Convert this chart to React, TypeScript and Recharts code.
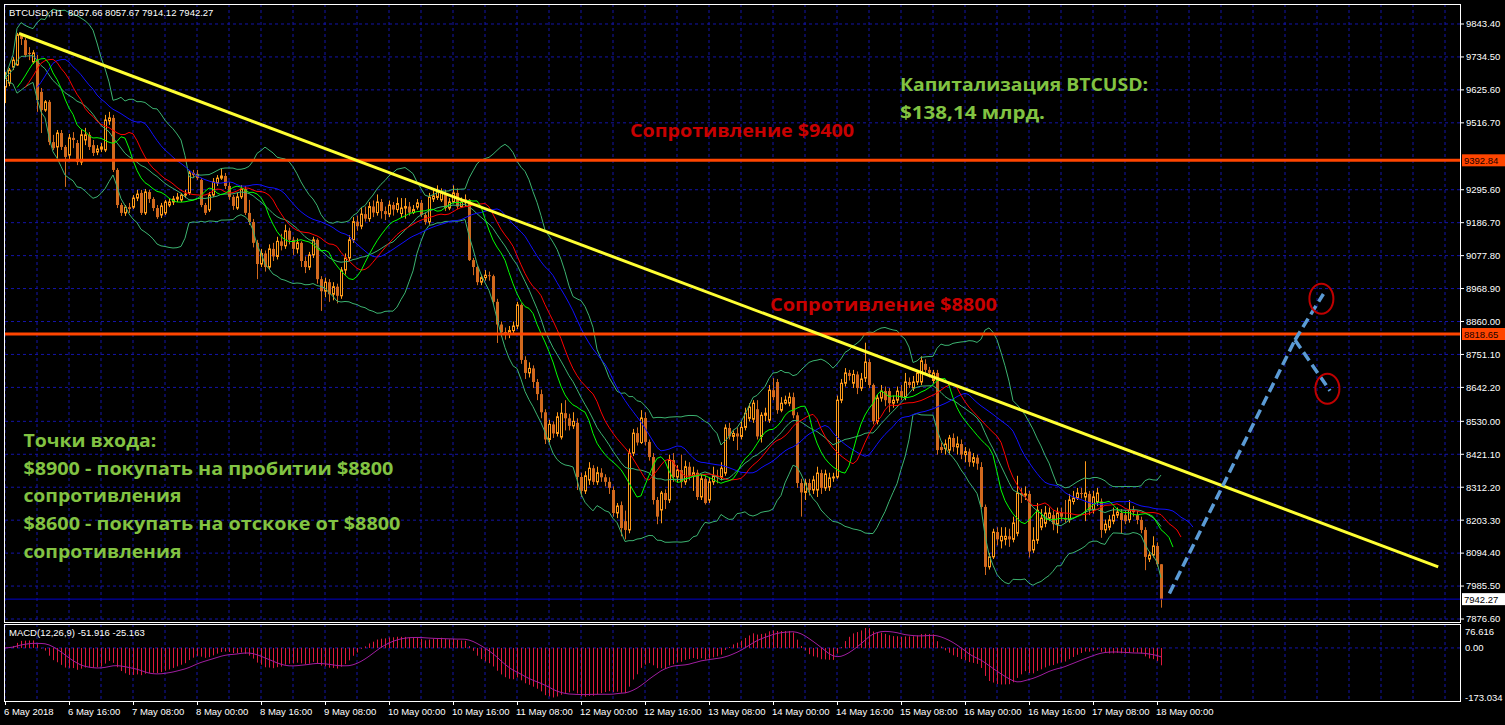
import React from "react";
import {
  ComposedChart,
  Bar,
  Line,
  XAxis,
  YAxis,
  CartesianGrid,
  ReferenceLine,
  ReferenceDot,
} from "recharts";

const SYMBOL = "BTCUSD,H1";
const MACD_TITLE = "MACD(12,26,9) -51.916 -25.163";

// H1 candles, bar 0 = 6 May 2018 00:00
const opens = [
  9635, 9648, 9701, 9708, 9804, 9790, 9748, 9718, 9724, 9619,
  9559, 9586, 9453, 9437, 9483, 9437, 9410, 9467, 9450, 9387,
  9460, 9477, 9443, 9420, 9430, 9427, 9523, 9533, 9361, 9245,
  9219, 9238, 9238, 9268, 9285, 9219, 9288, 9265, 9235, 9212,
  9219, 9245, 9255, 9265, 9262, 9278, 9285, 9351, 9348, 9328,
  9245, 9229, 9278, 9318, 9334, 9341, 9308, 9272, 9235, 9272,
  9298, 9219, 9189, 9120, 9050, 9085, 9040, 9100, 9075, 9125,
  9110, 9160, 9130, 9100, 9120, 9060, 9040, 9080, 9130, 9000,
  8960, 8990, 8950, 8975, 8945, 9030, 9070, 9130, 9190, 9175,
  9215, 9200, 9240, 9220, 9255, 9225, 9215, 9245, 9230, 9217,
  9235, 9240, 9220, 9238, 9252, 9212, 9189, 9265, 9270, 9262,
  9278, 9235, 9255, 9285, 9240, 9255, 9262, 9063, 9040, 8990,
  9005, 9013, 9010, 8925, 8850, 8825, 8818, 8830, 8845, 8915,
  8733, 8690, 8705, 8660, 8620, 8560, 8470, 8520, 8490, 8478,
  8557, 8540, 8515, 8525, 8346, 8300, 8336, 8375, 8330, 8360,
  8345, 8330, 8303, 8227, 8253, 8200, 8171, 8425, 8491, 8460,
  8541, 8462, 8412, 8270, 8237, 8293, 8270, 8402, 8346, 8369,
  8330, 8380, 8350, 8360, 8280, 8340, 8270, 8330, 8350, 8345,
  8359, 8508, 8480, 8490, 8480, 8510, 8540, 8537, 8570, 8480,
  8550, 8534, 8633, 8660, 8567, 8590, 8590, 8610, 8550, 8326,
  8295, 8326, 8303, 8303, 8359, 8310, 8313, 8343, 8346, 8600,
  8656, 8690, 8656, 8685, 8640, 8673, 8726, 8650, 8530, 8607,
  8630, 8630, 8590, 8600, 8630, 8610, 8660, 8640, 8660, 8660,
  8720, 8700, 8665, 8690, 8445, 8440, 8435, 8475, 8445, 8455,
  8420, 8430, 8395, 8410, 8379, 8247, 8049, 8082, 8164, 8135,
  8140, 8150, 8140, 8160, 8293, 8286, 8290, 8105, 8137, 8180,
  8193, 8210, 8220, 8190, 8227, 8210, 8205, 8265, 8276, 8293,
  8280, 8290, 8237, 8265, 8265, 8171, 8180, 8200, 8220, 8227,
  8220, 8205, 8237, 8220, 8204, 8171, 8075, 8088, 8118, 8057.66,
];
const highs = [
  9685, 9698, 9734, 9814, 9814, 9797, 9767, 9757, 9741, 9632,
  9592, 9592, 9477, 9493, 9493, 9443, 9480, 9486, 9460, 9493,
  9500, 9486, 9460, 9443, 9450, 9543, 9553, 9543, 9367, 9252,
  9245, 9252, 9278, 9295, 9295, 9298, 9295, 9271, 9245, 9252,
  9262, 9268, 9275, 9285, 9285, 9295, 9361, 9361, 9361, 9334,
  9252, 9288, 9334, 9344, 9367, 9351, 9321, 9278, 9285, 9311,
  9308, 9262, 9199, 9130, 9100, 9095, 9115, 9120, 9140, 9150,
  9180, 9170, 9140, 9135, 9125, 9075, 9090, 9140, 9135, 9010,
  9005, 9000, 8990, 8985, 9040, 9085, 9145, 9205, 9210, 9235,
  9240, 9255, 9260, 9280, 9265, 9240, 9260, 9255, 9270, 9268,
  9268, 9255, 9245, 9265, 9262, 9220, 9285, 9295, 9310, 9300,
  9295, 9268, 9310, 9300, 9270, 9280, 9265, 9070, 9045, 9015,
  9030, 9025, 9015, 8935, 8860, 8840, 8845, 8860, 8925, 8920,
  8745, 8725, 8715, 8670, 8635, 8570, 8535, 8530, 8560, 8590,
  8600, 8555, 8560, 8540, 8360, 8365, 8395, 8385, 8380, 8375,
  8355, 8345, 8315, 8260, 8265, 8235, 8440, 8505, 8510, 8567,
  8560, 8470, 8425, 8280, 8300, 8305, 8420, 8425, 8385, 8420,
  8400, 8395, 8380, 8370, 8355, 8350, 8345, 8380, 8370, 8395,
  8520, 8525, 8500, 8510, 8530, 8575, 8590, 8600, 8600, 8560,
  8575, 8650, 8673, 8670, 8610, 8615, 8625, 8625, 8560, 8340,
  8340, 8340, 8350, 8380, 8370, 8370, 8360, 8360, 8615, 8670,
  8706, 8700, 8700, 8695, 8690, 8790, 8735, 8655, 8620, 8650,
  8645, 8640, 8615, 8645, 8650, 8690, 8675, 8680, 8700, 8745,
  8735, 8710, 8700, 8700, 8460, 8470, 8485, 8490, 8480, 8470,
  8445, 8440, 8425, 8420, 8395, 8255, 8095, 8175, 8180, 8180,
  8180, 8175, 8215, 8350, 8310, 8315, 8300, 8180, 8260, 8240,
  8250, 8245, 8235, 8245, 8245, 8270, 8290, 8300, 8310, 8310,
  8398, 8300, 8300, 8310, 8275, 8205, 8220, 8245, 8245, 8240,
  8235, 8270, 8250, 8235, 8215, 8180, 8100, 8150, 8130, 8057.67,
];
const lows = [
  9582, 9638, 9691, 9705, 9774, 9734, 9724, 9711, 9553, 9483,
  9553, 9443, 9427, 9400, 9427, 9305, 9394, 9433, 9377, 9377,
  9443, 9427, 9407, 9410, 9420, 9420, 9510, 9354, 9235, 9209,
  9209, 9219, 9232, 9258, 9212, 9212, 9252, 9225, 9199, 9202,
  9212, 9238, 9245, 9255, 9255, 9268, 9278, 9334, 9328, 9238,
  9212, 9222, 9271, 9308, 9328, 9298, 9262, 9229, 9229, 9265,
  9212, 9179, 9105, 9000, 9040, 9025, 9030, 9060, 9065, 9095,
  9100, 9115, 9080, 9085, 9040, 9020, 9030, 9070, 8985, 8895,
  8940, 8925, 8930, 8920, 8935, 9015, 9060, 9120, 9160, 9165,
  9190, 9190, 9205, 9210, 9200, 9195, 9205, 9210, 9220, 9205,
  9200, 9210, 9215, 9230, 9205, 9180, 9180, 9255, 9262, 9255,
  9225, 9228, 9250, 9232, 9235, 9240, 9060, 9013, 8980, 8980,
  8995, 8995, 8915, 8789, 8810, 8800, 8805, 8820, 8835, 8720,
  8670, 8675, 8640, 8600, 8540, 8455, 8460, 8475, 8480, 8470,
  8500, 8500, 8505, 8303, 8280, 8290, 8320, 8320, 8320, 8330,
  8315, 8290, 8215, 8210, 8150, 8140, 8160, 8415, 8450, 8455,
  8450, 8400, 8255, 8190, 8193, 8240, 8260, 8330, 8330, 8310,
  8320, 8335, 8300, 8270, 8270, 8255, 8260, 8320, 8325, 8335,
  8350, 8470, 8465, 8435, 8470, 8500, 8530, 8525, 8470, 8460,
  8530, 8525, 8600, 8555, 8560, 8585, 8580, 8540, 8310, 8215,
  8270, 8285, 8290, 8280, 8290, 8300, 8300, 8330, 8340, 8590,
  8645, 8665, 8640, 8620, 8630, 8660, 8640, 8520, 8520, 8595,
  8580, 8560, 8575, 8590, 8600, 8600, 8640, 8630, 8650, 8650,
  8690, 8675, 8655, 8420, 8425, 8420, 8420, 8430, 8420, 8405,
  8395, 8380, 8380, 8370, 8240, 8022, 8040, 8075, 8120, 8110,
  8120, 8115, 8130, 8150, 8260, 8270, 8080, 8095, 8125, 8170,
  8180, 8200, 8170, 8160, 8200, 8195, 8195, 8255, 8270, 8275,
  8200, 8220, 8225, 8250, 8145, 8160, 8170, 8190, 8210, 8160,
  8190, 8195, 8215, 8190, 8160, 8038, 8065, 8080, 8050, 7914.12,
];
const closes = [
  9665, 9691, 9724, 9807, 9794, 9741, 9744, 9748, 9592, 9559,
  9586, 9453, 9433, 9483, 9437, 9404, 9467, 9460, 9387, 9477,
  9477, 9437, 9417, 9430, 9437, 9526, 9533, 9361, 9245, 9219,
  9238, 9232, 9268, 9281, 9219, 9288, 9265, 9235, 9205, 9242,
  9255, 9255, 9265, 9271, 9278, 9281, 9351, 9344, 9334, 9245,
  9219, 9278, 9321, 9334, 9341, 9308, 9272, 9242, 9272, 9298,
  9219, 9189, 9120, 9050, 9085, 9040, 9100, 9075, 9125, 9110,
  9160, 9130, 9100, 9120, 9060, 9040, 9080, 9130, 9000, 8960,
  8990, 8950, 8975, 8945, 9030, 9070, 9130, 9190, 9175, 9215,
  9200, 9240, 9220, 9255, 9225, 9215, 9245, 9230, 9250, 9235,
  9240, 9220, 9230, 9252, 9212, 9189, 9271, 9275, 9290, 9285,
  9235, 9255, 9285, 9240, 9255, 9262, 9063, 9040, 8990, 9005,
  9013, 9010, 8925, 8850, 8825, 8818, 8830, 8845, 8915, 8733,
  8690, 8705, 8660, 8620, 8560, 8470, 8520, 8490, 8545, 8557,
  8540, 8515, 8530, 8346, 8300, 8350, 8375, 8330, 8360, 8345,
  8330, 8310, 8227, 8250, 8177, 8171, 8425, 8491, 8460, 8541,
  8462, 8412, 8270, 8215, 8293, 8270, 8402, 8346, 8369, 8330,
  8380, 8350, 8360, 8280, 8340, 8260, 8330, 8350, 8345, 8375,
  8508, 8480, 8490, 8480, 8510, 8557, 8577, 8590, 8480, 8550,
  8557, 8633, 8610, 8567, 8590, 8600, 8610, 8550, 8326, 8295,
  8326, 8303, 8336, 8359, 8310, 8356, 8343, 8346, 8600, 8656,
  8690, 8680, 8685, 8640, 8670, 8726, 8650, 8530, 8607, 8630,
  8600, 8590, 8600, 8630, 8610, 8660, 8650, 8660, 8690, 8730,
  8700, 8690, 8690, 8435, 8435, 8455, 8475, 8445, 8455, 8420,
  8430, 8395, 8410, 8390, 8247, 8049, 8082, 8164, 8140, 8150,
  8150, 8140, 8194, 8293, 8286, 8290, 8100, 8137, 8236, 8210,
  8227, 8227, 8190, 8227, 8215, 8205, 8270, 8276, 8293, 8290,
  8293, 8237, 8280, 8293, 8171, 8190, 8204, 8220, 8230, 8204,
  8200, 8237, 8230, 8204, 8171, 8082, 8088, 8118, 8057.66, 7942.27,
];

const priceTicks = [
  9843.4, 9734.5, 9625.6, 9516.7, 9295.6, 9186.7, 9077.8, 8968.9, 8860.0,
  8751.1, 8642.2, 8530.0, 8421.1, 8312.2, 8203.3, 8094.4, 7985.5, 7876.6,
];
const macdTicks = [76.616, 0, -173.034];
// one label every 16 bars starting at bar 0
const timeLabels = [
  "6 May 2018", "6 May 16:00", "7 May 08:00", "8 May 00:00", "8 May 16:00",
  "9 May 08:00", "10 May 00:00", "10 May 16:00", "11 May 08:00", "12 May 00:00",
  "12 May 16:00", "13 May 08:00", "14 May 00:00", "14 May 16:00", "15 May 08:00",
  "16 May 00:00", "16 May 16:00", "17 May 08:00", "18 May 00:00",
];
const resistanceLevels = [9392.84, 8818.65];

// hand-drawn objects, in (bar, price)
const trendLine = [{ bar: 3.5, price: 9812 }, { bar: 358.3, price: 8049 }];
const forecastUp = [
  { bar: 291.1, price: 7961 },
  { bar: 322.5, price: 8799 },
  { bar: 329.6, price: 8951 },
];
const forecastDown = [{ bar: 322.5, price: 8799 }, { bar: 331.25, price: 8631 }];
const targets = [{ bar: 329.1, price: 8935 }, { bar: 330.6, price: 8638 }];

const resistanceNotes = ["Сопротивление $9400", "Сопротивление $8800"];
const capNote = ["Капитализация BTCUSD:", "$138,14 млрд."];
const entryNote = [
  "Точки входа:",
  "$8900 - покупать на пробитии $8800",
  "сопротивления",
  "$8600 - покупать на отскоке от $8800",
  "сопротивления",
];

const BULL = "#FF9A1A";
const BEAR = "#D2691E";
const GRID = "#1414a8";
const RED_TEXT = "#C80000";
const GREEN_TEXT = "#82C342";
const SMALL_FONT = "'Liberation Sans', Arial, sans-serif";
const NOTE_FONT = "'Open Sans', 'Noto Sans', sans-serif";

// indicators (Alligator, Bollinger 20/2, MACD 12/26/9) from the candles above
const smma = (src: number[], n: number) => {
  const out: number[] = [];
  let prev = 0;
  src.forEach((v, k) => {
    prev = k < n ? (prev * k + v) / (k + 1) : (prev * (n - 1) + v) / n;
    out.push(prev);
  });
  return out;
};
const ema = (src: number[], n: number) => {
  const a = 2 / (n + 1);
  let prev = src[0];
  return src.map((v) => (prev = prev + a * (v - prev)));
};
const sma = (src: number[], n: number) =>
  src.map((_, k) => {
    const w = src.slice(Math.max(0, k - n + 1), k + 1);
    return w.reduce((s, v) => s + v, 0) / w.length;
  });

const LAST = closes.length - 1;
const medians = highs.map((h, k) => (h + lows[k]) / 2);
const lips = smma(medians, 5);
const teeth = smma(medians, 8);
const jaw = smma(medians, 13);
const bbMid = sma(closes, 20);
const bbDev = closes.map((_, k) => {
  const w = closes.slice(Math.max(0, k - 19), k + 1);
  return Math.sqrt(w.reduce((s, v) => s + (v - bbMid[k]) ** 2, 0) / w.length);
});
const ema12 = ema(closes, 12);
const ema26 = ema(closes, 26);
const macdMain = closes.map((_, k) => ema12[k] - ema26[k]);
const macdSignal = sma(macdMain, 9);

const rows = Array.from({ length: LAST + 9 }, (_, i) => {
  const r: Record<string, number> = { i };
  if (i <= LAST) {
    r.open = opens[i];
    r.high = highs[i];
    r.low = lows[i];
    r.close = closes[i];
    r.bbUp = bbMid[i] + 2 * bbDev[i];
    r.bbMid = bbMid[i];
    r.bbLow = bbMid[i] - 2 * bbDev[i];
    r.macd = macdMain[i];
    r.signal = macdSignal[i];
  }
  if (i >= 3 && i - 3 <= LAST) r.lips = lips[i - 3];
  if (i >= 5 && i - 5 <= LAST) r.teeth = teeth[i - 5];
  if (i >= 8 && i - 8 <= LAST) r.jaw = jaw[i - 8];
  return r;
});

const gridBars = Array.from({ length: 46 }, (_, k) => k * 8);
const X_DOMAIN = [0, 364];

const Candle = (props: any) => {
  const { x, y, width, height, payload } = props;
  if (!payload || payload.open === undefined) return null;
  const { open, close, high, low } = payload;
  const top0 = Math.min(y, y + height);
  const h = Math.abs(height);
  const k = high > low ? h / (high - low) : 0;
  const yOf = (p: number) => top0 + (high - p) * k;
  const cx = Math.round(x + width / 2) + 0.5;
  const up = close >= open;
  const bTop = yOf(Math.max(open, close));
  const bBot = yOf(Math.min(open, close));
  const color = up ? BULL : BEAR;
  return (
    <g>
      <line x1={cx} x2={cx} y1={top0} y2={top0 + h} stroke={color} strokeWidth={1} />
      {up ? (
        <rect x={cx - 1} y={bTop} width={2} height={Math.max(bBot - bTop, 0.5)} fill="#000" stroke={color} strokeWidth={1} />
      ) : (
        <rect x={cx - 1.5} y={bTop} width={3} height={Math.max(bBot - bTop, 1)} fill={color} />
      )}
    </g>
  );
};

const HistBar = (props: any) => {
  const { x, y, width, height } = props;
  if (height === undefined || isNaN(height)) return null;
  const top = Math.min(y, y + height);
  return <rect x={Math.round(x + width / 2)} y={top} width={1} height={Math.max(Math.abs(height), 0.5)} fill="#E0193C" />;
};

const PriceTag = (props: any) => {
  const { viewBox, text, bg, color } = props;
  if (!viewBox) return null;
  const x = viewBox.x + viewBox.width + 1;
  const y = viewBox.y;
  return (
    <g>
      <rect x={x} y={y - 6} width={43} height={12} fill={bg} />
      <text x={x + 2} y={y + 3.5} fontSize={9.5} fontFamily={SMALL_FONT} fill={color}>
        {text}
      </text>
    </g>
  );
};

const Note = (props: any) => {
  const { cx, cy, lines, widths, color } = props;
  return (
    <g>
      {lines.map((t: string, k: number) => (
        <text
          key={k}
          x={cx}
          y={cy + k * 27.8}
          fill={color}
          fontFamily={NOTE_FONT}
          fontWeight={700}
          fontSize={18.5}
          textLength={widths[k]}
          lengthAdjust="spacingAndGlyphs"
        >
          {t}
        </text>
      ))}
    </g>
  );
};

const Ring = (props: any) => (
  <ellipse cx={props.cx} cy={props.cy} rx={12} ry={15} fill="none" stroke="#C00000" strokeWidth={2} />
);

const TimeTick = (props: any) => {
  const { x, y, payload } = props;
  const v = payload.value;
  const label = v % 16 === 0 ? timeLabels[v / 16] : undefined;
  if (!label) return null;
  return (
    <g>
      <line x1={x + 0.5} x2={x + 0.5} y1={y} y2={y + 3} stroke="#fff" />
      <text x={x - 1} y={y + 12.5} fill="#fff" fontSize={9.5} fontFamily={SMALL_FONT}>
        {label}
      </text>
    </g>
  );
};

const MacdTick = (props: any) => {
  const { x, y, payload } = props;
  const v = payload.value;
  const dy = v > 0 ? 7 : v < 0 ? -5 : 0;
  return (
    <text x={x} y={y + dy + 3.5} fill="#fff" fontSize={9.5} fontFamily={SMALL_FONT}>
      {v === 0 ? "0.00" : String(v)}
    </text>
  );
};

const pt = (p: { bar: number; price: number }) => ({ x: p.bar, y: p.price });

export default function App() {
  const legend = `${SYMBOL}  ${opens[LAST].toFixed(2)} ${highs[LAST].toFixed(2)} ${lows[LAST].toFixed(2)} ${closes[LAST].toFixed(2)}`;
  const frame: React.CSSProperties = {
    position: "absolute",
    left: 4,
    width: 1457,
    border: "1px solid #fff",
    boxSizing: "border-box",
    pointerEvents: "none",
  };
  const small: React.CSSProperties = {
    position: "absolute",
    left: 9,
    color: "#fff",
    fontFamily: SMALL_FONT,
    fontSize: 9.5,
    lineHeight: "11px",
    whiteSpace: "pre",
  };
  return (
    <div style={{ position: "absolute", left: 0, top: 0, width: 1505, height: 725, background: "#000", overflow: "hidden" }}>
      <div style={{ position: "absolute", left: 0, top: 0 }}>
        <ComposedChart width={1505} height={632} data={rows} margin={{ top: 4, right: 0, bottom: 10, left: 5 }}>
          <CartesianGrid stroke={GRID} strokeDasharray="3 3" verticalValues={gridBars} horizontalValues={priceTicks} />
          <XAxis dataKey="i" type="number" domain={X_DOMAIN} ticks={gridBars} hide allowDataOverflow />
          <YAxis
            orientation="right"
            width={44}
            domain={[7866.7, 9909.51]}
            ticks={priceTicks}
            interval={0}
            allowDataOverflow
            axisLine={false}
            tickLine={{ stroke: "#fff" }}
            tickSize={3}
            tickMargin={2}
            tick={{ fill: "#fff", fontSize: 9.5, fontFamily: SMALL_FONT }}
            tickFormatter={(v: number) => v.toFixed(2)}
          />
          <Bar
            dataKey={(d: any) => (d.open === undefined ? null : [d.low, d.high])}
            barSize={3}
            shape={<Candle />}
            isAnimationActive={false}
          />
          <Line dataKey="bbUp" stroke="#3CB371" dot={false} strokeWidth={1} isAnimationActive={false} />
          <Line dataKey="bbMid" stroke="#3CB371" dot={false} strokeWidth={1} isAnimationActive={false} />
          <Line dataKey="bbLow" stroke="#3CB371" dot={false} strokeWidth={1} isAnimationActive={false} />
          <Line dataKey="jaw" stroke="#1010FF" dot={false} strokeWidth={1} isAnimationActive={false} />
          <Line dataKey="teeth" stroke="#FF0000" dot={false} strokeWidth={1} isAnimationActive={false} />
          <Line dataKey="lips" stroke="#00FF00" dot={false} strokeWidth={1} isAnimationActive={false} />

          <ReferenceLine
            y={closes[LAST]}
            stroke="#0000CD"
            strokeWidth={1}
            label={<PriceTag text={closes[LAST].toFixed(2)} bg="#fff" color="#000" />}
          />
          {resistanceLevels.map((lv) => (
            <ReferenceLine
              key={lv}
              y={lv}
              stroke="#FF4500"
              strokeWidth={3}
              label={<PriceTag text={lv.toFixed(2)} bg="#FF4500" color="#200000" />}
            />
          ))}
          <ReferenceLine segment={trendLine.map(pt)} stroke="#FFFF33" strokeWidth={3} />
          <ReferenceLine segment={[pt(forecastUp[0]), pt(forecastUp[1])]} stroke="#5B9BD5" strokeWidth={3.5} strokeDasharray="10 5" />
          <ReferenceLine segment={[pt(forecastUp[1]), pt(forecastUp[2])]} stroke="#5B9BD5" strokeWidth={3.5} strokeDasharray="10 5" />
          <ReferenceLine segment={forecastDown.map(pt)} stroke="#5B9BD5" strokeWidth={3.5} strokeDasharray="10 5" />
          {targets.map((t, k) => (
            <ReferenceDot key={k} x={t.bar} y={t.price} r={14} shape={(p: any) => <Ring {...p} />} />
          ))}

          <ReferenceDot x={156.25} y={9469} r={1} shape={(p: any) => <Note {...p} lines={[resistanceNotes[0]]} widths={[224]} color={RED_TEXT} />} />
          <ReferenceDot x={191.25} y={8896} r={1} shape={(p: any) => <Note {...p} lines={[resistanceNotes[1]]} widths={[227]} color={RED_TEXT} />} />
          <ReferenceDot x={223.75} y={9622} r={1} shape={(p: any) => <Note {...p} lines={capNote} widths={[248, 145]} color={GREEN_TEXT} />} />
          <ReferenceDot x={4.6} y={8446} r={1} shape={(p: any) => <Note {...p} lines={entryNote} widths={[133, 370, 158, 377, 158]} color={GREEN_TEXT} />} />
        </ComposedChart>
      </div>

      <div style={{ position: "absolute", left: 0, top: 624 }}>
        <ComposedChart width={1505} height={101} data={rows} margin={{ top: 0, right: 0, bottom: 0, left: 5 }}>
          <CartesianGrid stroke={GRID} strokeDasharray="3 3" verticalValues={gridBars} horizontalValues={[0]} />
          <XAxis
            dataKey="i"
            type="number"
            domain={X_DOMAIN}
            ticks={gridBars}
            interval={0}
            height={23}
            allowDataOverflow
            axisLine={false}
            tickLine={false}
            tickSize={0}
            tickMargin={0}
            tick={<TimeTick />}
          />
          <YAxis
            orientation="right"
            width={44}
            domain={[-173.034, 76.616]}
            ticks={macdTicks}
            interval={0}
            allowDataOverflow
            axisLine={false}
            tickLine={false}
            tickSize={3}
            tickMargin={1}
            tick={<MacdTick />}
          />
          <Bar dataKey="macd" barSize={1} shape={<HistBar />} isAnimationActive={false} />
          <Line dataKey="signal" stroke="#A01EA0" dot={false} strokeWidth={1} isAnimationActive={false} />
        </ComposedChart>
      </div>

      <div style={{ ...frame, top: 4, height: 619 }} />
      <div style={{ ...frame, top: 624, height: 78 }} />
      <div style={{ ...small, top: 7 }}>{legend}</div>
      <div style={{ ...small, top: 627 }}>{MACD_TITLE}</div>
    </div>
  );
}
